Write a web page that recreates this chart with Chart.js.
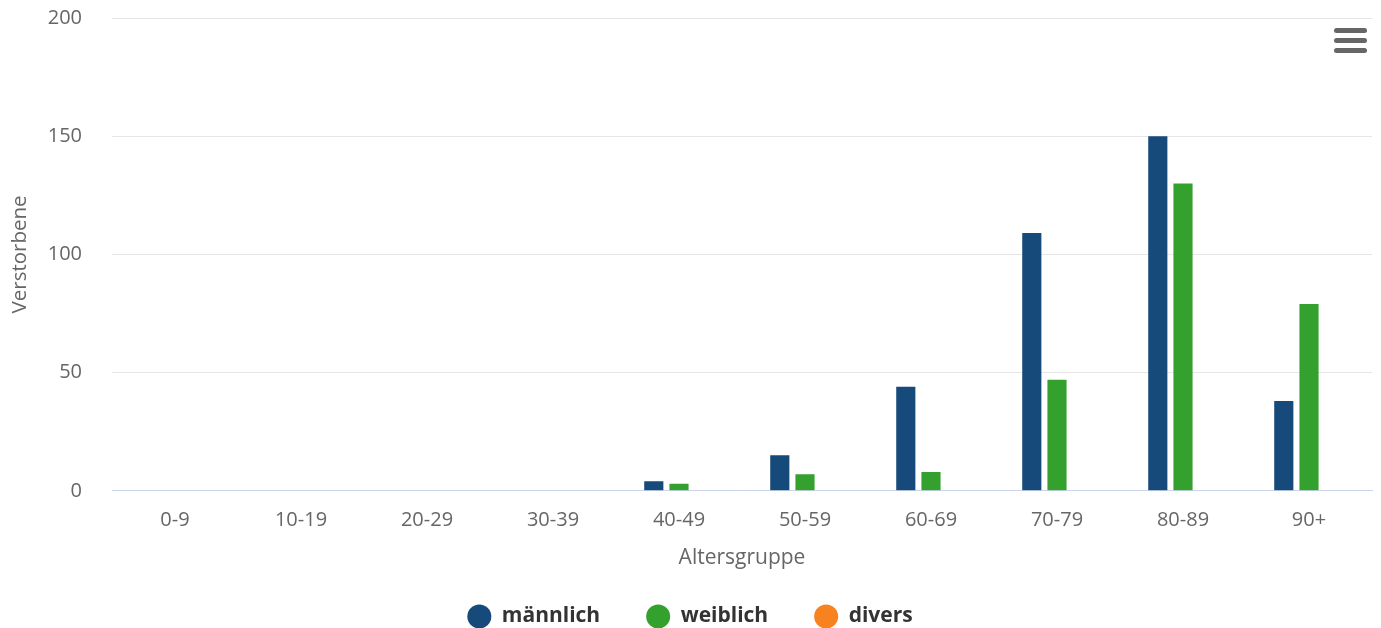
<!DOCTYPE html>
<html lang="de">
<head>
<meta charset="utf-8">
<title>Verstorbene nach Altersgruppe</title>
<script src="https://cdn.jsdelivr.net/npm/chart.js@4/dist/chart.umd.min.js"></script>
<style>
  html, body { margin: 0; padding: 0; background: #fff; }
  .chart-container { position: relative; width: 1381px; height: 628px; }
  .menu-button { position: absolute; left: 1334px; top: 28px; width: 33px; }
  .menu-button span {
    display: block; height: 5px; margin-bottom: 5px;
    background: #666; border-radius: 3px;
  }
</style>
</head>
<body>
<div class="chart-container">
  <canvas id="chart"></canvas>
  <div class="menu-button"><span></span><span></span><span></span></div>
</div>
<script>
(() => {
  'use strict';

  // Altersgruppen
  const categories = ['0-9', '10-19', '20-29', '30-39', '40-49', '50-59', '60-69', '70-79', '80-89', '90+'];

  // Verstorbene je Geschlecht
  const maleValues = [0, 0, 0, 0, 4, 15, 44, 109, 150, 38];
  const femaleValues = [0, 0, 0, 0, 3, 7, 8, 47, 130, 79];
  const diversValues = [0, 0, 0, 0, 0, 0, 0, 0, 0, 0];

  const yTicks = [0, 50, 100, 150, 200];

  const fontFamily = '"Open Sans", "Noto Sans", sans-serif';
  const textColor = '#666666';

  const makeDataset = (label, data, color) => ({
    label: label,
    data: data,
    backgroundColor: color,
    borderWidth: 0,
    barPercentage: 0.76,
    categoryPercentage: 0.6
  });

  const ctx = document.getElementById('chart').getContext('2d');

  new Chart(ctx, {
    type: 'bar',
    data: {
      labels: categories,
      datasets: [
        makeDataset('männlich', maleValues, '#164a7a'),
        makeDataset('weiblich', femaleValues, '#34a12e'),
        makeDataset('divers', diversValues, '#f7821f')
      ]
    },
    options: {
      responsive: true,
      maintainAspectRatio: false,
      animation: false,
      layout: {
        padding: { left: 8, right: 9, top: 18, bottom: -9 }
      },
      plugins: {
        tooltip: { enabled: false },
        legend: {
          position: 'bottom',
          labels: {
            usePointStyle: true,
            pointStyle: 'circle',
            pointStyleWidth: 24,
            boxHeight: 17,
            padding: 46,
            color: '#333333',
            font: { family: fontFamily, size: 21, weight: 'bold' }
          }
        }
      },
      scales: {
        x: {
          grid: { display: false, drawTicks: false },
          border: { display: true, color: '#ccd6eb', width: 1 },
          ticks: {
            color: textColor,
            padding: 17,
            font: { family: fontFamily, size: 20 }
          },
          title: {
            display: true,
            text: 'Altersgruppe',
            color: textColor,
            padding: { top: -3, bottom: -11 },
            font: { family: fontFamily, size: 21 }
          }
        },
        y: {
          min: 0,
          max: 200,
          afterBuildTicks: (axis) => {
            axis.ticks = yTicks.map((value) => ({ value: value }));
          },
          grid: {
            color: '#e6e6e6',
            drawTicks: false,
            lineWidth: 1
          },
          border: { display: false },
          ticks: {
            color: textColor,
            padding: 30,
            font: { family: fontFamily, size: 20 }
          },
          title: {
            display: true,
            text: 'Verstorbene',
            color: textColor,
            padding: { top: 0, bottom: 0 },
            font: { family: fontFamily, size: 20.5 }
          },
          afterFit: (axis) => {
            axis.width = 104;
            axis.paddingTop = 0;
            axis.paddingBottom = 0;
          }
        }
      }
    }
  });
})();
</script>
</body>
</html>
